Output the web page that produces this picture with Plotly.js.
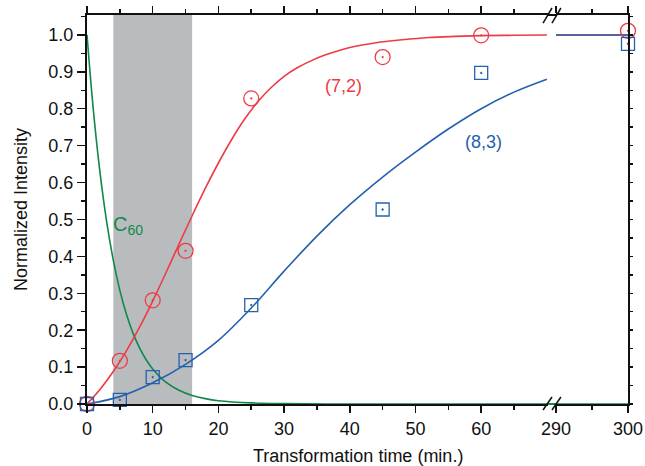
<!DOCTYPE html>
<html>
<head>
<meta charset="utf-8">
<script src="https://cdn.plot.ly/plotly-3.0.1.min.js"></script>
<style>html,body{margin:0;padding:0;background:#fff;}#chart{width:645px;height:466px;}</style>
</head>
<body>
<div id="chart"></div>
<script>
// Measured points, (7,2) circles
const redX = [0, 5, 10, 15, 25, 45, 60];
const redY = [0, 0.117, 0.281, 0.415, 0.828, 0.940, 0.999];
const redX2 = [300];
const redY2 = [1.011];
// Measured points, (8,3) squares
const blueX = [0, 5, 10, 15, 25, 45, 60];
const blueY = [0, 0.011, 0.073, 0.119, 0.268, 0.527, 0.897];
const blueX2 = [300];
const blueY2 = [0.976];
// Fitted curves
const redFitX = [0, 2, 4, 6, 8, 10, 12, 14, 16, 18, 20, 22, 24, 26, 28, 30, 32, 34, 36, 38, 40, 44, 48, 52, 56, 60, 65, 70];
const redFitY = [0, 0.040, 0.088, 0.144, 0.208, 0.279, 0.355, 0.433, 0.510, 0.584, 0.653, 0.716, 0.772, 0.819, 0.857, 0.888, 0.911, 0.929, 0.944, 0.956, 0.966, 0.979, 0.987, 0.993, 0.996, 0.998, 0.999, 1.0];
const blueFitX = [0, 5, 10, 15, 20, 25, 30, 35, 40, 45, 50, 55, 60, 65, 70];
const blueFitY = [0, 0.020, 0.0575, 0.1075, 0.1725, 0.26, 0.36, 0.455, 0.54, 0.615, 0.6825, 0.745, 0.80, 0.845, 0.88];
const greenFitX = [0, 1, 2, 3, 4, 5, 6, 7, 8, 9, 10, 12, 14, 16, 18, 20, 25, 30, 40, 50, 60, 70];
const greenFitY = [1.0, 0.79, 0.624, 0.493, 0.39, 0.308, 0.243, 0.192, 0.152, 0.12, 0.095, 0.059, 0.037, 0.023, 0.0145, 0.009, 0.003, 0.001, 0, 0, 0, 0];
const tailX = [290, 300];
const redTailY = [1.0, 1.0];
const blueTailY = [1.0, 1.0];
const greenTailY = [0, 0];
const bandRange = [4, 16];
const xTicks1 = [0, 10, 20, 30, 40, 50, 60];
const xMinor1 = [5, 15, 25, 35, 45, 55, 65];
const xTicks2 = [290, 300];
const xMinor2 = [295];
const yTicks = [0, 0.1, 0.2, 0.3, 0.4, 0.5, 0.6, 0.7, 0.8, 0.9, 1.0];

const RED = '#ee3b43', BLUE = '#2461ad', GREEN = '#11884a';
const FONT = 'Liberation Sans, Arial, sans-serif';

const traces = [
  {x: greenFitX, y: greenFitY, mode: 'lines', line: {color: GREEN, width: 1.6, shape: 'spline'}, xaxis: 'x', yaxis: 'y', cliponaxis: false},
  {x: tailX, y: greenTailY, mode: 'lines', line: {color: GREEN, width: 1.6}, xaxis: 'x2', yaxis: 'y2', cliponaxis: false},
  {x: blueFitX, y: blueFitY, mode: 'lines', line: {color: BLUE, width: 1.6, shape: 'spline'}, xaxis: 'x', yaxis: 'y'},
  {x: redFitX, y: redFitY, mode: 'lines', line: {color: RED, width: 1.6, shape: 'spline'}, xaxis: 'x', yaxis: 'y'},
  {x: tailX, y: redTailY, mode: 'lines', line: {color: RED, width: 1.6}, xaxis: 'x2', yaxis: 'y2'},
  {x: tailX, y: blueTailY, mode: 'lines', line: {color: BLUE, width: 1.6}, xaxis: 'x2', yaxis: 'y2'},
  {x: redX, y: redY, mode: 'markers', marker: {symbol: 'circle-open-dot', size: 15, color: RED, line: {width: 1.3}}, xaxis: 'x', yaxis: 'y', cliponaxis: false},
  {x: blueX, y: blueY, mode: 'markers', marker: {symbol: 'square-open-dot', size: 13, color: BLUE, line: {width: 1.3}}, xaxis: 'x', yaxis: 'y', cliponaxis: false},
  {x: redX2, y: redY2, mode: 'markers', marker: {symbol: 'circle-open-dot', size: 15, color: RED, line: {width: 1.3}}, xaxis: 'x2', yaxis: 'y2', cliponaxis: false},
  {x: blueX2, y: blueY2, mode: 'markers', marker: {symbol: 'square-open-dot', size: 13, color: BLUE, line: {width: 1.3}}, xaxis: 'x2', yaxis: 'y2', cliponaxis: false}
];

const d1 = (548 - 87) / 541, d2 = (556 - 87) / 541;
const tickFont = {family: FONT, size: 18, color: '#111'};
const yCommon = {
  range: [0, 1.054], tickvals: yTicks, tickformat: '.1f',
  showline: true, linecolor: '#111', linewidth: 2, showgrid: false, zeroline: false,
  ticks: 'outside', tickcolor: '#111', tickwidth: 1.5
};

const layout = {
  width: 645, height: 466,
  margin: {l: 87, r: 17, t: 15, b: 62},
  paper_bgcolor: '#fff', plot_bgcolor: 'rgba(0,0,0,0)',
  showlegend: false,
  font: {family: FONT, size: 18, color: '#111'},
  xaxis: {
    domain: [0, d1], range: [0, 70.17], tickvals: xTicks1, anchor: 'y',
    showline: true, linecolor: '#111', linewidth: 2, mirror: 'ticks', showgrid: false, zeroline: false,
    ticks: 'outside', ticklen: 7, tickwidth: 1.5, tickcolor: '#111', tickfont: tickFont,
    minor: {tickvals: xMinor1, ticks: 'outside', ticklen: 4, tickwidth: 1.5, tickcolor: '#111'}
  },
  xaxis2: {
    domain: [d2, 1], range: [290, 300], tickvals: xTicks2, anchor: 'y2',
    showline: true, linecolor: '#111', linewidth: 2, mirror: 'ticks', showgrid: false, zeroline: false,
    ticks: 'outside', ticklen: 7, tickwidth: 1.5, tickcolor: '#111', tickfont: tickFont,
    minor: {tickvals: xMinor2, ticks: 'outside', ticklen: 4, tickwidth: 1.5, tickcolor: '#111'}
  },
  yaxis: Object.assign({}, yCommon, {
    anchor: 'x', side: 'left', ticklen: 8, tickfont: tickFont,
    minor: {dtick: 0.05, ticks: 'outside', ticklen: 4, tickwidth: 1.5, tickcolor: '#111'},
    title: {text: 'Normalized Intensity', font: {family: FONT, size: 18, color: '#111'}, standoff: 16}
  }),
  yaxis2: Object.assign({}, yCommon, {
    anchor: 'x2', side: 'right', ticklen: 3, showticklabels: false,
    minor: {dtick: 0.05, ticks: 'outside', ticklen: 3, tickwidth: 1.5, tickcolor: '#111'}
  }),
  shapes: [
    {type: 'rect', xref: 'x', yref: 'paper', x0: bandRange[0], x1: bandRange[1], y0: 0, y1: 1, fillcolor: '#b9bcbe', line: {width: 0}, layer: 'below'},
    {type: 'line', xref: 'paper', yref: 'paper', x0: d1, x1: d2, y0: 1, y1: 1, line: {color: '#111', width: 2}},
    {type: 'line', xref: 'paper', yref: 'paper', x0: d1, x1: d2, y0: 0, y1: 0, line: {color: GREEN, width: 2}},
    {type: 'line', xref: 'paper', yref: 'paper', x0: 0.843, x1: 0.8595, y0: 0.979, y1: 1.018, line: {color: '#111', width: 1.5}},
    {type: 'line', xref: 'paper', yref: 'paper', x0: 0.8595, x1: 0.876, y0: 0.979, y1: 1.018, line: {color: '#111', width: 1.5}},
    {type: 'line', xref: 'paper', yref: 'paper', x0: 0.843, x1: 0.8595, y0: -0.0154, y1: 0.018, line: {color: '#111', width: 1.5}},
    {type: 'line', xref: 'paper', yref: 'paper', x0: 0.8595, x1: 0.876, y0: -0.0154, y1: 0.018, line: {color: '#111', width: 1.5}}
  ],
  annotations: [
    {xref: 'paper', yref: 'paper', x: 0.5, y: -0.134, yanchor: 'middle', text: 'Transformation time (min.)', showarrow: false, font: {family: FONT, size: 18, color: '#111'}},
    {xref: 'x', yref: 'y', x: 39, y: 0.862, text: '(7,2)', showarrow: false, font: {family: FONT, size: 18, color: RED}},
    {xref: 'x', yref: 'y', x: 60.4, y: 0.71, text: '(8,3)', showarrow: false, font: {family: FONT, size: 18, color: BLUE}},
    {xref: 'x', yref: 'y', x: 6.3, y: 0.485, text: 'C<sub>60</sub>', showarrow: false, font: {family: FONT, size: 20, color: GREEN}}
  ]
};

Plotly.newPlot('chart', traces, layout, {displayModeBar: false, staticPlot: true});
</script>
</body>
</html>
